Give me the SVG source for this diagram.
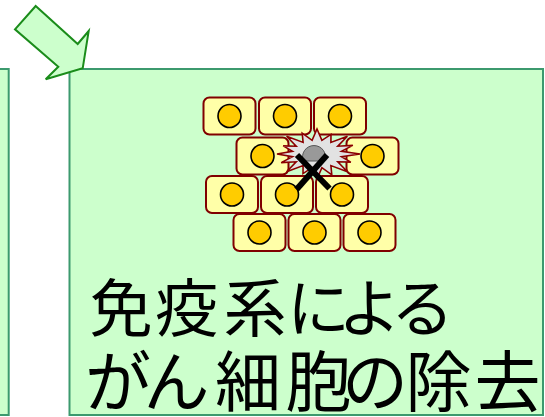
<svg xmlns="http://www.w3.org/2000/svg" width="545" height="417" viewBox="0 0 545 417">
  <defs>
    <style>
      .panel { fill: #ccffcc; stroke: #3c9a6e; stroke-width: 2; }
      .cell { fill: #ffffa8; stroke: #800000; stroke-width: 2; }
      .nucleus { fill: #ffcc00; stroke: #000000; stroke-width: 1.6; }
      .burst { fill: #e2e2e2; stroke: #8b0000; stroke-width: 1.6; stroke-linejoin: miter; }
      .cross { stroke: #000000; stroke-width: 6; }
      .label { font-family: "Noto Sans CJK JP", "Noto Sans", sans-serif; fill: #000000; text-anchor: middle; }
      .arrow { fill: #ccffcc; stroke: #1a8c1a; stroke-width: 2; stroke-linejoin: miter; }
    </style>
    <g id="cellShape">
      <rect class="cell" x="0" y="0" width="52" height="37" rx="6" ry="6"/>
      <circle class="nucleus" cx="26" cy="18.5" r="11.5"/>
    </g>
  </defs>

  <!-- previous panel, cut off at the left edge -->
  <g id="panel-left">
    <rect class="panel" x="-20" y="69" width="28.7" height="346"/>
  </g>

  <!-- panel: removal of cancer cells by the immune system -->
  <g id="panel-removal">
    <rect class="panel" x="69.5" y="69" width="473.5" height="346"/>

    <g id="tissue">
      <use href="#cellShape" x="203.5" y="97.5"/>
      <use href="#cellShape" x="259" y="97.5"/>
      <use href="#cellShape" x="314" y="97.5"/>
      <use href="#cellShape" x="236.5" y="137.5"/>
      <use href="#cellShape" x="346.5" y="137.5"/>
      <use href="#cellShape" x="206" y="176"/>
      <use href="#cellShape" x="261" y="176"/>
      <use href="#cellShape" x="316" y="176"/>
      <use href="#cellShape" x="233.5" y="214"/>
      <use href="#cellShape" x="288.5" y="214"/>
      <use href="#cellShape" x="343.5" y="214"/>
    </g>

    <g id="destroyed-cell">
      <polygon class="burst" points="360,154 341.5,156.7 350.8,162.1 337.8,161.8 347.4,171.7 330.9,165.6 331.8,174.8 321.9,167.7 317,179 312.1,167.7 303,173.6 303.1,165.6 286.6,171.7 296.2,161.8 281.2,162.6 292.5,156.7 277,154 292.5,151.3 283.2,145.9 296.2,146.2 286.6,136.3 303.1,142.4 302.2,133.2 312.1,140.3 317,129 321.9,140.3 331,134.4 330.9,142.4 347.4,136.3 337.8,146.2 352.8,145.4 341.5,151.3"/>
      <path d="M303.2,161 A11.5,11.5 0 1 1 324.8,161 Z" fill="#999999" stroke="#555555" stroke-width="1"/>
      <line class="cross" x1="297" y1="155" x2="329.5" y2="188.5"/>
      <line class="cross" x1="327" y1="155" x2="296.5" y2="189.5"/>
    </g>

    <text class="label" font-size="63">
      <tspan x="121" y="331">免</tspan><tspan x="186.5" y="331">疫</tspan><tspan x="255" y="331">系</tspan><tspan x="318.5" y="331">に</tspan><tspan x="369.5" y="331">よ</tspan><tspan x="422.5" y="331">る</tspan>
    </text>
    <text class="label" font-size="66">
      <tspan x="118" y="406">が</tspan><tspan x="176.5" y="406">ん</tspan><tspan x="248" y="406">細</tspan><tspan x="318.5" y="406">胞</tspan><tspan x="375" y="406">の</tspan><tspan x="438.5" y="406">除</tspan><tspan x="507.5" y="406">去</tspan>
    </text>
  </g>

  <!-- block arrow pointing into the panel -->
  <g id="connectors">
    <polygon class="arrow" points="35.7,6 77.7,44 88.7,31 82.7,68.3 45.7,79.3 58.3,66.7 15,29.3"/>
  </g>
</svg>
